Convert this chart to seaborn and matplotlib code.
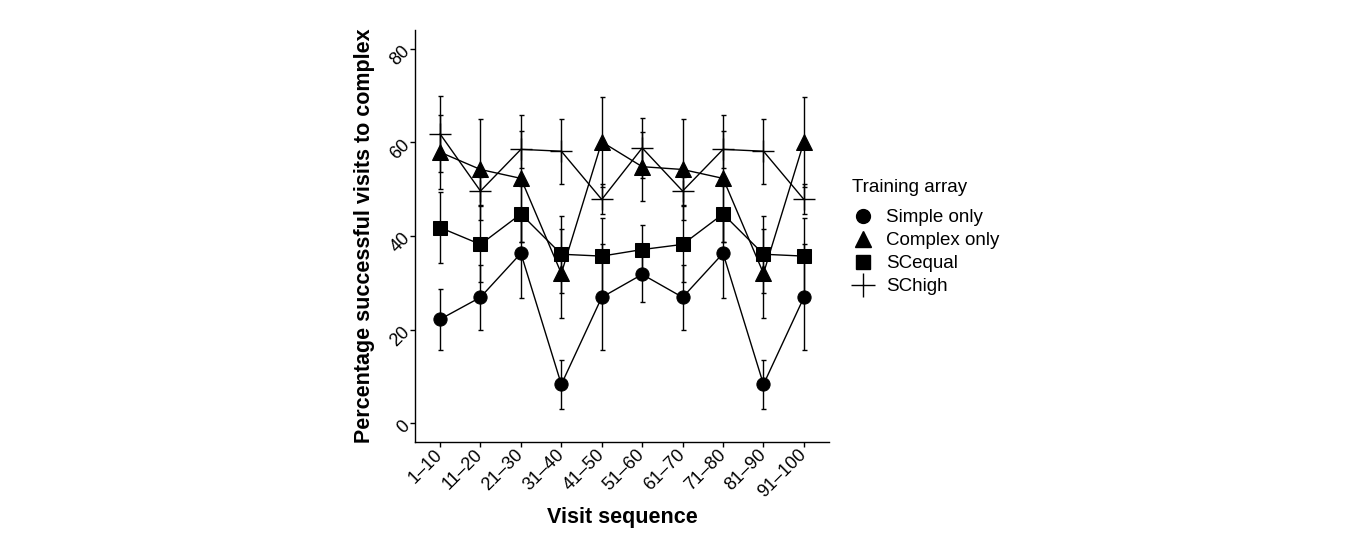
import numpy as np
import pandas as pd
import seaborn as sns
import matplotlib
matplotlib.use("Agg")
import matplotlib.pyplot as plt
from matplotlib.lines import Line2D

visits = ["1–10", "11–20", "21–30", "31–40", "41–50",
          "51–60", "61–70", "71–80", "81–90", "91–100"]
groups = ["Simple only", "Complex only", "SCequal", "SChigh"]

simple_only = [22.2, 26.9, 36.3, 8.3, 26.9, 31.8, 26.9, 36.3, 8.3, 26.9]
simple_only_se = [6.5, 7.0, 9.5, 5.2, 11.3, 5.9, 7.0, 9.5, 5.2, 11.3]
complex_only = [57.9, 54.2, 52.3, 32.0, 60.1, 54.8, 54.2, 52.3, 32.0, 60.1]
complex_only_se = [7.9, 10.8, 13.6, 9.5, 9.6, 7.3, 10.8, 13.6, 9.5, 9.6]
sc_equal = [41.8, 38.2, 44.7, 36.1, 35.7, 37.1, 38.2, 44.7, 36.1, 35.7]
sc_equal_se = [7.6, 8.1, 6.0, 8.2, 8.2, 5.2, 8.1, 6.0, 8.2, 8.2]
sc_high = [61.8, 49.6, 58.5, 58.1, 47.8, 58.8, 49.6, 58.5, 58.1, 47.8]
sc_high_se = [8.1, 3.0, 4.0, 6.9, 3.2, 6.5, 3.0, 4.0, 6.9, 3.2]

markers = ["o", "^", "s", "+"]
marker_sizes = {"o": 9.5, "^": 11, "s": 10, "+": 16.5}


def build_frame():
    means = [simple_only, complex_only, sc_equal, sc_high]
    ses = [simple_only_se, complex_only_se, sc_equal_se, sc_high_se]
    rows = []
    for g, m, e in zip(groups, means, ses):
        for v, mm, ee in zip(visits, m, e):
            rows.append({"visit": v, "array": g, "pct": mm, "se": ee})
    return pd.DataFrame(rows)


df = build_frame()

sns.set_theme(style="ticks")
plt.rcParams["font.family"] = ["Liberation Sans", "DejaVu Sans"]
plt.rcParams["text.color"] = "black"
plt.rcParams["axes.labelcolor"] = "black"

fig = plt.figure(figsize=(13.57, 5.36), dpi=100)
ax = fig.add_axes([0.3058, 0.1754, 0.3051, 0.7687])

# error bars first so the markers sit on top
for g in groups:
    sub = df[df["array"] == g]
    ax.errorbar(np.arange(len(visits)), sub["pct"], yerr=sub["se"], fmt="none",
                ecolor="black", elinewidth=1.0, capsize=1.8, capthick=1.0, zorder=1)

sns.pointplot(data=df, x="visit", y="pct", hue="array", order=visits,
              hue_order=groups, palette={g: "black" for g in groups},
              markers=markers, linestyles="-", errorbar=None, legend=False,
              markersize=9.5, linewidth=1.0, ax=ax)

for line in ax.lines:
    mk = line.get_marker()
    if mk in marker_sizes:
        line.set_markersize(marker_sizes[mk])
        if mk == "+":
            line.set_markeredgewidth(1.0)
        line.set_zorder(3)

ax.set_xlim(-0.62, 9.62)
ax.set_ylim(-4, 84)
ax.set_yticks([0, 20, 40, 60, 80])

sns.despine(ax=ax)
for side in ["left", "bottom"]:
    ax.spines[side].set_color("black")
    ax.spines[side].set_linewidth(1.0)
ax.tick_params(length=3.5, width=1, colors="black", labelsize=13, pad=2)
ax.tick_params(axis="x", pad=4)
for lab in ax.get_xticklabels():
    lab.set_rotation(45)
    lab.set_ha("right")
    lab.set_va("center")
    lab.set_rotation_mode("anchor")
for lab in ax.get_yticklabels():
    lab.set_rotation(45)
    lab.set_ha("right")
    lab.set_va("center")
    lab.set_rotation_mode("anchor")

ax.set_xlabel("Visit sequence", fontsize=15.5, fontweight="bold", labelpad=4)
ax.set_ylabel("Percentage successful visits to complex", fontsize=15.5,
              fontweight="bold", labelpad=9)

handles = [Line2D([], [], marker=m, color="black", linestyle="None",
                  markersize=marker_sizes[m] * 1.05, markeredgewidth=1.0)
           for m in markers]
leg = fig.legend(handles, groups, title="Training array", loc="upper left",
                 bbox_to_anchor=(0.621, 0.684), frameon=False, fontsize=13.5,
                 title_fontsize=13.5, alignment="left", handlelength=1.2,
                 handletextpad=0.6, labelspacing=0.32, borderpad=0)
leg._legend_box.sep = 9.5  # bigger gap under the title

fig.savefig("out.png", dpi=100)
